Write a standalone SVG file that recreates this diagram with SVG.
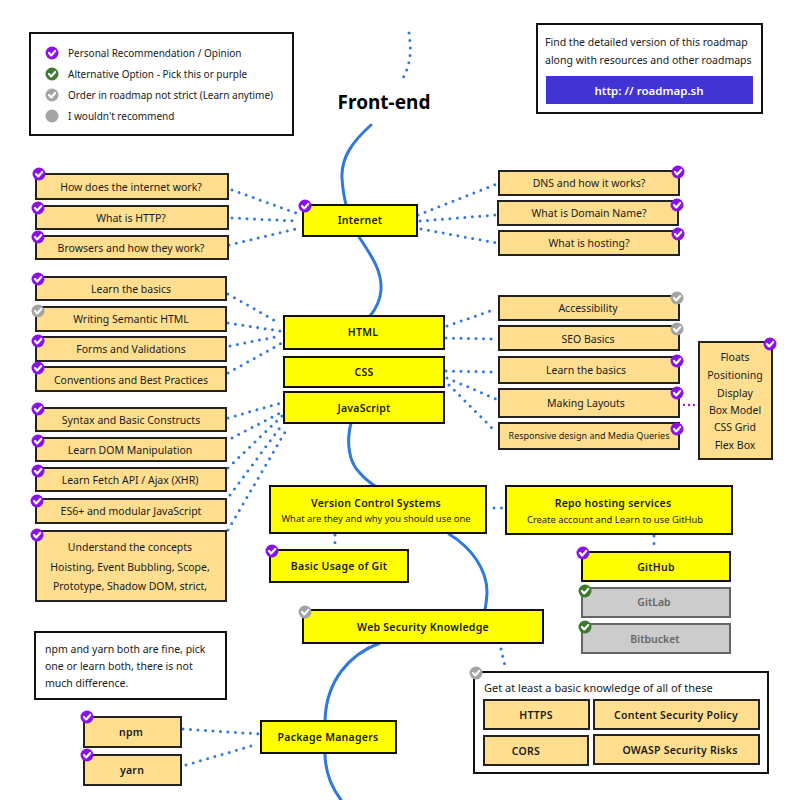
<svg xmlns="http://www.w3.org/2000/svg" width="794" height="800" viewBox="0 0 794 800">
<style>
text{font-family:"Noto Sans","Open Sans","Liberation Sans",sans-serif;font-size:10.5px;fill:#1a1a1a;text-anchor:middle;dominant-baseline:central}
.l{text-anchor:start}
.b{font-weight:600;letter-spacing:.25px}
.s{font-size:9.4px}
.m{font-size:9px}
.t{font-size:10px}
.y rect{fill:#ffff00;stroke:#111;stroke-width:2}
.o rect{fill:#ffdf8f;stroke:#222;stroke-width:2}
.g rect{fill:#cccccc;stroke:#666;stroke-width:2}
.g text{fill:#666;font-weight:600}
.w{fill:#fff;stroke:#111;stroke-width:2}
.curve{fill:none;stroke:#2f78dc;stroke-width:3;stroke-linecap:round}
.dot{fill:none;stroke:#2f78dc;stroke-width:3;stroke-linecap:round;stroke-dasharray:0 7.5}
.pdot{fill:none;stroke:#9b1fe0;stroke-width:2.4;stroke-linecap:round;stroke-dasharray:0 5}
.chk{fill:none;stroke:#fff;stroke-width:2.2;stroke-linecap:round;stroke-linejoin:round}
</style>
<defs>
<g id="bp"><circle r="6.5" fill="#8a12e6"/><path class="chk" d="M-3 0 L-.8 2.4 L3.2 -2"/></g>
<g id="bg"><circle r="6.5" fill="#3d7a2c"/><path class="chk" d="M-3 0 L-.8 2.4 L3.2 -2"/></g>
<g id="bn"><circle r="6.5" fill="#a3a3a3"/><path class="chk" d="M-3 0 L-.8 2.4 L3.2 -2"/></g>
</defs>

<g id="connectors">
<path class="curve" d="M371 125 C352 142 341 158 342 178 C343 198 349 222 361 240 C373 258 382 272 381 290 C380 302 375 310 370 316"/>
<path class="curve" d="M351 423 C346 442 349 462 359 472 C364 478 369 482 375 486"/>
<path class="curve" d="M449 534 C472 548 487 570 487 592 C487 598 486 604 485 610"/>
<path class="curve" d="M380 643 C350 654 326 680 325 721"/>
<path class="curve" d="M325 753 C325 772 332 788 341 800"/>
<path class="dot" d="M409 33 C411 48 412 62 402 80"/>
<path class="dot" d="M232 190 L296 213"/>
<path class="dot" d="M232 218 L297 221"/>
<path class="dot" d="M229 245 L300 228"/>
<path class="dot" d="M418 215 L497 184"/>
<path class="dot" d="M420 221 L496 215"/>
<path class="dot" d="M421 229 L497 243"/>
<path class="dot" d="M228 294 L279 323"/>
<path class="dot" d="M228 323 L280 331"/>
<path class="dot" d="M230 346 L280 336"/>
<path class="dot" d="M228 373 L282 343"/>
<path class="dot" d="M228 418 L281 403"/>
<path class="dot" d="M232 438 L282 412"/>
<path class="dot" d="M228 468 L283 415"/>
<path class="dot" d="M230 495 L282 425"/>
<path class="dot" d="M228 530 L288 427"/>
<path class="dot" d="M447 326 L496 309"/>
<path class="dot" d="M446 338 L496 339"/>
<path class="dot" d="M446 371 L496 372"/>
<path class="dot" d="M447 378 L496 399"/>
<path class="dot" d="M449 385 L492 428"/>
<path class="pdot" d="M684 405 L698 405"/>
<path class="dot" d="M494 508 L502 508"/>
<path class="dot" d="M335 535 L335 545"/>
<path class="dot" d="M654 536 L654 546"/>
<path class="dot" d="M501 649 L505 666"/>
<path class="dot" d="M183 729 L260 734"/>
<path class="dot" d="M186 765 L258 744"/>
</g>

<g id="legend">
<rect class="w" x="30" y="33" width="263" height="102"/>
<use href="#bp" x="52" y="53"/><text class="l t" x="68" y="53">Personal Recommendation / Opinion</text>
<use href="#bg" x="52" y="74"/><text class="l t" x="68" y="74">Alternative Option - Pick this or purple</text>
<use href="#bn" x="52" y="95"/><text class="l t" x="68" y="95">Order in roadmap not strict (Learn anytime)</text>
<circle cx="52" cy="116" r="6.5" fill="#a3a3a3"/><text class="l t" x="68" y="116">I wouldn't recommend</text>
</g>
<g id="roadmap-link">
<rect class="w" x="537" y="24" width="225" height="89"/>
<text class="l" x="545" y="42">Find the detailed version of this roadmap</text>
<text class="l" x="545" y="60">along with resources and other roadmaps</text>
<rect x="546" y="76" width="207" height="28" fill="#4233d4"/>
<text x="649" y="90" style="fill:#fff;font-size:11.5px;font-weight:600">http: // roadmap.sh</text>
</g>
<g id="title"><text x="384" y="102" style="font-size:19px;font-weight:700;fill:#000">Front-end</text></g>

<g id="n-howinternet" class="o"><rect x="36" y="174" width="192" height="25"/><text x="131" y="187">How does the internet work?</text><use href="#bp" x="39" y="174"/></g>
<g id="n-http" class="o"><rect x="36" y="206" width="192" height="23"/><text x="131" y="218">What is HTTP?</text><use href="#bp" x="38" y="208"/></g>
<g id="n-browsers" class="o"><rect x="36" y="236" width="192" height="23"/><text x="131" y="248">Browsers and how they work?</text><use href="#bp" x="38" y="237"/></g>
<g id="n-internet" class="y"><rect x="303" y="205" width="114" height="31"/><text class="b" x="360" y="220">Internet</text><use href="#bp" x="305" y="206"/></g>
<g id="n-dns" class="o"><rect x="499" y="171" width="180" height="24"/><text x="589" y="183">DNS and how it works?</text><use href="#bp" x="678" y="172"/></g>
<g id="n-domain" class="o"><rect x="498" y="201" width="180" height="24"/><text x="589" y="213">What is Domain Name?</text><use href="#bp" x="677" y="205"/></g>
<g id="n-hosting" class="o"><rect x="499" y="231" width="180" height="24"/><text x="589" y="243">What is hosting?</text><use href="#bp" x="678" y="234"/></g>

<g id="n-htmlbasics" class="o"><rect x="36" y="277" width="190" height="23"/><text x="131" y="289">Learn the basics</text><use href="#bp" x="38" y="279"/></g>
<g id="n-semantic" class="o"><rect x="36" y="307" width="190" height="24"/><text x="131" y="319">Writing Semantic HTML</text><use href="#bn" x="38" y="311"/></g>
<g id="n-forms" class="o"><rect x="36" y="337" width="190" height="24"/><text x="131" y="349">Forms and Validations</text><use href="#bp" x="38" y="341"/></g>
<g id="n-conventions" class="o"><rect x="36" y="367" width="190" height="24"/><text x="131" y="380">Conventions and Best Practices</text><use href="#bp" x="38" y="368"/></g>
<g id="n-syntax" class="o"><rect x="36" y="408" width="190" height="23"/><text x="131" y="420">Syntax and Basic Constructs</text><use href="#bp" x="38" y="409"/></g>
<g id="n-dom" class="o"><rect x="36" y="438" width="190" height="23"/><text x="130" y="450">Learn DOM Manipulation</text><use href="#bp" x="38" y="441"/></g>
<g id="n-fetch" class="o"><rect x="36" y="468" width="190" height="23"/><text x="130" y="480">Learn Fetch API / Ajax (XHR)</text><use href="#bp" x="38" y="471"/></g>
<g id="n-es6" class="o"><rect x="36" y="499" width="190" height="24"/><text x="131" y="511">ES6+ and modular JavaScript</text><use href="#bp" x="37" y="501"/></g>
<g id="n-concepts" class="o"><rect x="36" y="531" width="190" height="70"/><text x="130" y="547">Understand the concepts</text><text x="130" y="567">Hoisting, Event Bubbling, Scope,</text><text x="130" y="586">Prototype, Shadow DOM, strict,</text><use href="#bp" x="37" y="535"/></g>

<g id="n-html" class="y"><rect x="284" y="316" width="160" height="33"/><text class="b" x="363" y="332">HTML</text></g>
<g id="n-css" class="y"><rect x="284" y="357" width="160" height="30"/><text class="b" x="364" y="372">CSS</text></g>
<g id="n-js" class="y"><rect x="284" y="392" width="160" height="31"/><text class="b" x="364" y="408">JavaScript</text></g>

<g id="n-a11y" class="o"><rect x="499" y="296" width="180" height="24"/><text x="588" y="308">Accessibility</text><use href="#bn" x="677" y="298"/></g>
<g id="n-seo" class="o"><rect x="499" y="326" width="180" height="24"/><text x="588" y="339">SEO Basics</text><use href="#bn" x="677" y="329"/></g>
<g id="n-cssbasics" class="o"><rect x="499" y="357" width="180" height="26"/><text x="586" y="370">Learn the basics</text><use href="#bp" x="677" y="361"/></g>
<g id="n-layouts" class="o"><rect x="499" y="389" width="180" height="28"/><text x="586" y="403">Making Layouts</text><use href="#bp" x="677" y="393"/></g>
<g id="n-responsive" class="o"><rect x="499" y="423" width="180" height="26"/><text class="m" x="589" y="435">Responsive design and Media Queries</text><use href="#bp" x="677" y="429"/></g>
<g id="n-layoutlist" class="o"><rect x="699" y="342" width="73" height="117"/><text x="735" y="357">Floats</text><text x="735" y="375">Positioning</text><text x="735" y="393">Display</text><text x="735" y="410">Box Model</text><text x="735" y="427">CSS Grid</text><text x="735" y="445">Flex Box</text><use href="#bp" x="770" y="344"/></g>

<g id="n-vcs" class="y"><rect x="270" y="486" width="216" height="47"/><text class="b" x="376" y="503">Version Control Systems</text><text class="s" x="376" y="518">What are they and why you should use one</text></g>
<g id="n-repo" class="y"><rect x="506" y="486" width="226" height="48"/><text class="b" x="613" y="503">Repo hosting services</text><text class="s" x="615" y="519">Create account and Learn to use GitHub</text></g>
<g id="n-git" class="y"><rect x="270" y="550" width="138" height="32"/><text class="b" x="339" y="566">Basic Usage of Git</text><use href="#bp" x="272" y="551"/></g>
<g id="n-github" class="y"><rect x="582" y="552" width="148" height="29"/><text class="b" x="656" y="567">GitHub</text><use href="#bp" x="583" y="553"/></g>
<g id="n-gitlab" class="g"><rect x="582" y="588" width="148" height="29"/><text x="654" y="602">GitLab</text><use href="#bg" x="585" y="591"/></g>
<g id="n-bitbucket" class="g"><rect x="582" y="624" width="148" height="29"/><text x="655" y="639">Bitbucket</text><use href="#bg" x="585" y="627"/></g>
<g id="n-websec" class="y"><rect x="303" y="610" width="240" height="33"/><text class="b" x="423" y="627">Web Security Knowledge</text><use href="#bn" x="305" y="612"/></g>

<g id="n-security-group">
<rect class="w" x="474" y="672" width="294" height="101"/>
<text class="l" x="484" y="687" style="font-size:11px">Get at least a basic knowledge of all of these</text>
<use href="#bn" x="476" y="673"/>
</g>
<g id="n-https" class="o"><rect x="484" y="700" width="105" height="29"/><text class="b" x="536" y="715">HTTPS</text></g>
<g id="n-csp" class="o"><rect x="594" y="700" width="165" height="29"/><text class="b" x="676" y="715">Content Security Policy</text></g>
<g id="n-cors" class="o"><rect x="484" y="736" width="104" height="29"/><text class="b" x="526" y="751">CORS</text></g>
<g id="n-owasp" class="o"><rect x="594" y="735" width="165" height="29"/><text class="b" x="680" y="750">OWASP Security Risks</text></g>

<g id="n-note">
<rect class="w" x="35" y="632" width="191" height="67"/>
<text class="l" x="45" y="649">npm and yarn both are fine, pick</text>
<text class="l" x="45" y="666">one or learn both, there is not</text>
<text class="l" x="45" y="683">much difference.</text>
</g>
<g id="n-npm" class="o"><rect x="84" y="717" width="97" height="30"/><text class="b" x="131" y="732">npm</text><use href="#bp" x="87" y="717"/></g>
<g id="n-yarn" class="o"><rect x="84" y="755" width="97" height="30"/><text class="b" x="132" y="770">yarn</text><use href="#bp" x="87" y="755"/></g>
<g id="n-pm" class="y"><rect x="261" y="721" width="135" height="32"/><text class="b" x="328" y="737">Package Managers</text></g>
</svg>
